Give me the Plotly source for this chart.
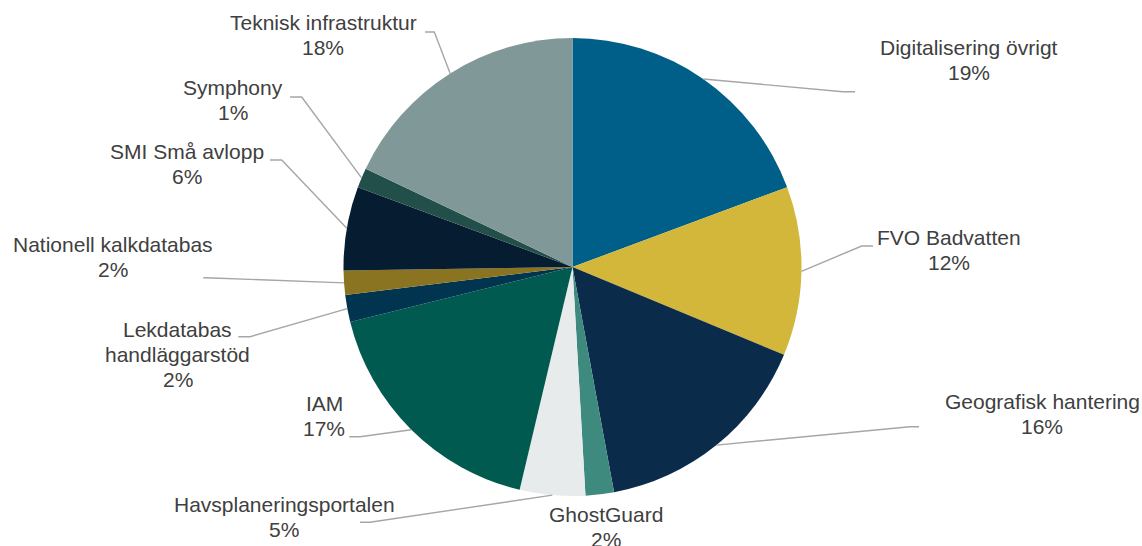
import math
import plotly.graph_objects as go

# Budget share per project (percent of total)
projects = [
    "Digitalisering övrigt", "FVO Badvatten", "Geografisk hantering", "GhostGuard",
    "Havsplaneringsportalen", "IAM", "Lekdatabas handläggarstöd", "Nationell kalkdatabas",
    "SMI Små avlopp", "Symphony", "Teknisk infrastruktur",
]
shares = [19.3, 11.9, 15.8, 2.0, 4.6, 17.4, 1.9, 1.7, 5.9, 1.4, 17.9]
label_lines = [
    ["Digitalisering övrigt"], ["FVO Badvatten"], ["Geografisk hantering"], ["GhostGuard"],
    ["Havsplaneringsportalen"], ["IAM"], ["Lekdatabas", "handläggarstöd"],
    ["Nationell kalkdatabas"], ["SMI Små avlopp"], ["Symphony"], ["Teknisk infrastruktur"],
]
colors = ["#005F89", "#D2B73A", "#0B2B4A", "#3E8A7E", "#E7EBEC", "#005A4F",
          "#00344F", "#8A7321", "#061C30", "#224F4A", "#819898"]

W, H = 1142, 546
CX, CY, R = 572.5, 267.0, 229.0
FONT = "Liberation Sans, Arial, sans-serif"
TEXT_COLOR = "#404040"
LINE_COLOR = "#A6A6A6"
LINE_STEP = 25.0
TEXT_SHIFT = -1.5

# Label placement (pixel layout): text centre x, first-line centre y,
# leader elbow and leader end (None = no leader)
label_layout = [
    (969, 49, (843, 91.7), (855, 91.7)),
    (949, 239, (861.7, 246), (873, 246)),
    (1042, 403, (910, 426.7), (919, 426.7)),
    (606, 516, None, None),
    (284, 506, (370, 522.3), (360, 522.3)),
    (324, 404.5, (360, 436.7), (349.3, 436.7)),
    (177.5, 331, (250, 336.7), (238.3, 336.7)),
    (113, 246, (213, 278), (203.3, 277.7)),
    (187, 153, (281.7, 160), (270, 160)),
    (233, 89, (301.7, 97), (290, 97)),
    (323, 24, (434.3, 32), (425, 32)),
]


def px(x):
    return x / W


def py(y):
    return 1 - y / H


fig = go.Figure(go.Pie(
    labels=projects,
    values=shares,
    sort=False,
    direction="clockwise",
    rotation=0,
    marker=dict(colors=colors, line=dict(width=0)),
    textinfo="none",
    hoverinfo="label+percent",
    showlegend=False,
    domain=dict(x=[px(CX - R), px(CX + R)], y=[py(CY + R), py(CY - R)]),
))

total = sum(shares)
annotations = []
shapes = []
cum = 0.0
for value, lines, (tx, ty, elbow, end) in zip(shares, label_lines, label_layout):
    frac = value / total
    mid = (cum + frac / 2) * 2 * math.pi
    cum += frac
    pct = f"{round(frac * 100)}%"
    for i, txt in enumerate(lines + [pct]):
        annotations.append(dict(
            x=px(tx), y=py(ty + TEXT_SHIFT + i * LINE_STEP), xref="paper", yref="paper",
            text=txt, showarrow=False, xanchor="center", yanchor="middle",
            font=dict(family=FONT, size=21, color=TEXT_COLOR),
        ))
    if elbow is not None:
        sx = CX + R * math.sin(mid)
        sy = CY - R * math.cos(mid)
        path = (f"M {px(sx)},{py(sy)} L {px(elbow[0])},{py(elbow[1])} "
                f"L {px(end[0])},{py(end[1])}")
        shapes.append(dict(type="path", path=path, xref="paper", yref="paper",
                           line=dict(color=LINE_COLOR, width=1.4)))

fig.update_layout(
    width=W, height=H,
    margin=dict(l=0, r=0, t=0, b=0),
    paper_bgcolor="white",
    plot_bgcolor="white",
    annotations=annotations,
    shapes=shapes,
)

fig.write_html("out.html")
